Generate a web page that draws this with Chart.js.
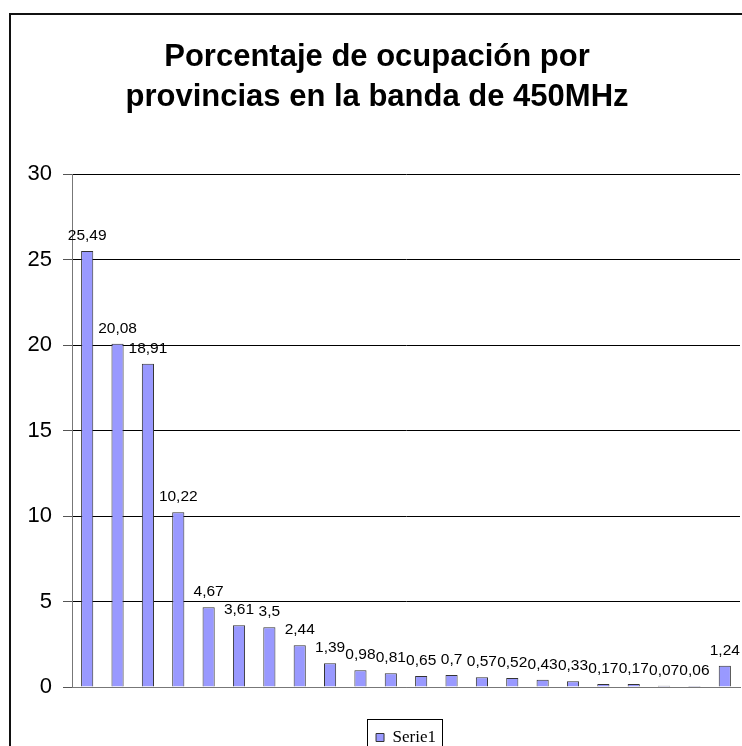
<!DOCTYPE html>
<html>
<head>
<meta charset="utf-8">
<title>Ocupación 450MHz</title>
<script src="https://cdn.jsdelivr.net/npm/chart.js@4.4.1/dist/chart.umd.min.js"></script>
<style>
  html, body { margin: 0; padding: 0; background: #fff; overflow: hidden; }
  canvas { display: block; }
</style>
</head>
<body>
<canvas id="ocupacion_450" width="760" height="780"></canvas>
<script>
// porcentaje de ocupación por provincia (orden del gráfico)
const provincias = ['', '', '', '', '', '', '', '', '', '', '', '', '', '', '', '', '', '', '', '', '', ''];
const ocupacion = [25.49, 20.08, 18.91, 10.22, 4.67, 3.61, 3.5, 2.44, 1.39, 0.98, 0.81,
                   0.65, 0.7, 0.57, 0.52, 0.43, 0.33, 0.17, 0.17, 0.07, 0.06, 1.24];
const serie = 'Serie1';
const titulo = ['Porcentaje de ocupación por', 'provincias en la banda de 450MHz'];
const yMin = 0, yMax = 30, yPaso = 5;

const SANS = "'Liberation Sans', Arial, sans-serif";
const SERIF = "'Liberation Serif', 'Times New Roman', serif";

// marco exterior del gráfico
const marco = {
    id: 'marco',
    beforeDraw(chart) {
        const ctx = chart.ctx;
        ctx.save();
        ctx.fillStyle = '#fff';
        ctx.fillRect(0, 0, chart.width, chart.height);
        ctx.strokeStyle = '#111';
        ctx.lineWidth = 2;
        ctx.strokeRect(10, 14, chart.width, chart.height);
        ctx.restore();
    }
};

// etiquetas de valor encima de cada barra, con coma decimal
const etiquetas = {
    id: 'etiquetas',
    afterDatasetsDraw(chart) {
        const ctx = chart.ctx;
        const meta = chart.getDatasetMeta(0);
        ctx.save();
        ctx.font = '15.5px ' + SANS;
        ctx.fillStyle = '#000';
        ctx.textAlign = 'center';
        ctx.textBaseline = 'alphabetic';
        meta.data.forEach((bar, i) => {
            const txt = String(ocupacion[i]).replace('.', ',');
            ctx.fillText(txt, bar.x, bar.y - 11);
        });
        ctx.restore();
    }
};

// recuadro de la leyenda
const cajaLeyenda = {
    id: 'cajaLeyenda',
    afterDraw(chart) {
        const hit = chart.legend.legendHitBoxes[0];
        if (!hit) return;
        const ctx = chart.ctx;
        ctx.save();
        ctx.strokeStyle = '#000';
        ctx.lineWidth = 1;
        ctx.strokeRect(Math.round(hit.left) - 8.5, Math.round(hit.top + hit.height / 2) - 18.5,
                       Math.round(hit.width) + 15, 60);
        ctx.restore();
    }
};

new Chart(document.getElementById('ocupacion_450'), {
    type: 'bar',
    data: {
        labels: provincias,
        datasets: [{
            label: serie,
            data: ocupacion,
            backgroundColor: '#9999FF',
            borderColor: '#333',
            borderWidth: 1,
            barPercentage: 0.4,
            categoryPercentage: 1
        }]
    },
    options: {
        responsive: false,
        animation: false,
        layout: {
            padding: { top: 0, left: 14, right: 20, bottom: 24 }
        },
        scales: {
            x: {
                ticks: { display: false },
                grid: { display: false },
                border: { display: true, color: '#777', width: 1 },
                afterFit: (scale) => { scale.height = 32; }
            },
            y: {
                min: yMin,
                max: yMax,
                ticks: {
                    stepSize: yPaso,
                    color: '#000',
                    padding: 11,
                    font: { family: SANS, size: 22 }
                },
                grid: {
                    color: (c) => c.tick && c.tick.value === 0 ? '#777' : '#000',
                    lineWidth: 1,
                    tickLength: 9,
                    tickColor: '#555'
                },
                border: { display: true, color: '#777', width: 1 },
                afterFit: (scale) => { scale.width = 58; }
            }
        },
        plugins: {
            title: {
                display: true,
                text: titulo,
                color: '#000',
                font: { family: SANS, size: 31, weight: 'bold', lineHeight: 40 / 31 },
                padding: { top: 37, bottom: 57 }
            },
            legend: {
                position: 'bottom',
                fullSize: false,
                labels: {
                    color: '#000',
                    boxWidth: 8,
                    boxHeight: 8,
                    padding: 10,
                    font: { family: SERIF, size: 17 }
                }
            },
            tooltip: { enabled: false }
        }
    },
    plugins: [marco, etiquetas, cajaLeyenda]
});
</script>
</body>
</html>
